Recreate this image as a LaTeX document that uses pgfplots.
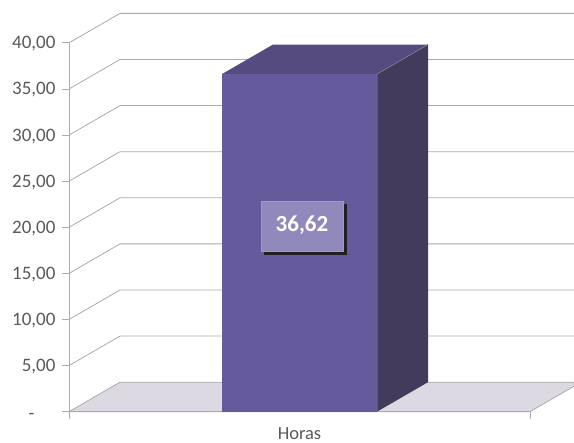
\documentclass[border=0pt]{standalone}
\usepackage{fontspec}
\setmainfont{Carlito}
\usepackage{pgfplots}
\pgfplotsset{compat=1.18}
\definecolor{gridc}{HTML}{ABABAB}
\definecolor{txt}{HTML}{595959}
\definecolor{floorc}{HTML}{DCD9E3}
\definecolor{barfront}{HTML}{655A9C}
\definecolor{bartop}{HTML}{564B7E}
\definecolor{barside}{HTML}{423B5C}
\definecolor{boxc}{HTML}{9188BC}
\definecolor{shadow}{HTML}{231F20}
\begin{document}
\begin{tikzpicture}[x=1pt,y=1pt]
\useasboundingbox (-69,-31.3) rectangle (505,411.7);
\begin{axis}[
  scale only axis, width=505pt, height=398.3pt,
  xmin=0, xmax=505, ymin=0, ymax=43.2,
  clip=false,
  axis line style={draw=none},
  tick align=outside,
  tick style={gridc, line width=0.8pt},
  ytick={0,5,10,15,20,25,30,35,40},
  yticklabels={{\raisebox{-6.5pt}[0pt][0pt]{-\rule{21pt}{0pt}}},{5,00},{10,00},{15,00},{20,00},{25,00},{30,00},{35,00},{40,00}},
  ytick pos=left, xtick pos=bottom,
  major tick length=7pt,
  xtick={230.5}, xticklabels={Horas},
  x tick style={draw=none},
  ticklabel style={font=\fontsize{19}{19}\selectfont, text=txt},
  x tick label style={yshift=-5pt, font=\fontsize{18.5}{18.5}\selectfont, text=txt},
  y tick label style={xshift=-3pt, yshift=-1pt},
]
% floor
\addplot[draw=gridc, line width=0.8pt, fill=floorc] coordinates {(0,0) (51,3.2) (505,3.2) (505,2.76) (461,0)} -- cycle;
% walls and category ticks
\addplot[gridc, line width=0.8pt] coordinates {(0,-0.75) (0,40)};
\addplot[gridc, line width=0.8pt] coordinates {(461,-0.75) (461,0)};
\addplot[gridc, line width=1.6pt] coordinates {(0,0) (461,0)};
% grid lines, side wall then back wall
\addplot[gridc, line width=0.8pt] coordinates {(0,5) (51,8.2) (505,8.2)};
\addplot[gridc, line width=0.8pt] coordinates {(0,10) (51,13.2) (505,13.2)};
\addplot[gridc, line width=0.8pt] coordinates {(0,15) (51,18.2) (505,18.2)};
\addplot[gridc, line width=0.8pt] coordinates {(0,20) (51,23.2) (505,23.2)};
\addplot[gridc, line width=0.8pt] coordinates {(0,25) (51,28.2) (505,28.2)};
\addplot[gridc, line width=0.8pt] coordinates {(0,30) (51,33.2) (505,33.2)};
\addplot[gridc, line width=0.8pt] coordinates {(0,35) (51,38.2) (505,38.2)};
\addplot[gridc, line width=0.8pt] coordinates {(0,40) (51,43.2) (505,43.2)};
% bar, value 36.62
\addplot[draw=none, fill=bartop] coordinates {(153,36.62) (204,39.82) (359,39.82) (308,36.62)} -- cycle;
\addplot[draw=none, fill=barside] coordinates {(308,0) (359,3.2) (359,39.82) (308,36.62)} -- cycle;
\addplot[draw=none, fill=barfront] coordinates {(153,0) (308,0) (308,36.62) (153,36.62)} -- cycle;
\addplot[gridc!70!barside, line width=0.5pt] coordinates {(308,0) (308,36.62) (359,39.82)};
% data label
\addplot[draw=none, fill=shadow] coordinates {(195,17.0) (278,17.0) (278,22.5) (195,22.5)} -- cycle;
\addplot[draw=gridc!60!boxc, line width=0.4pt, fill=boxc] coordinates {(192,17.46) (274,17.46) (274,22.85) (192,22.85)} -- cycle;
\node[font=\fontsize{23}{23}\selectfont\bfseries, text=white] at (axis cs:233,20.2) {36,62};
\end{axis}
\end{tikzpicture}
\end{document}
